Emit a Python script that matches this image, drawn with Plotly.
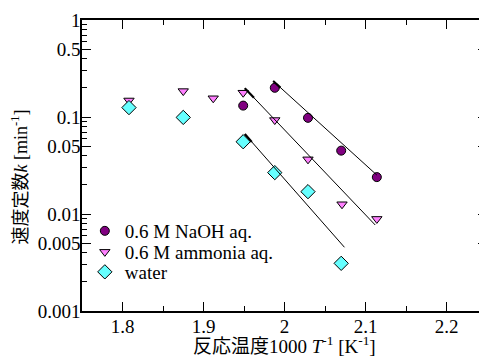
import plotly.graph_objects as go
import numpy as np

# Data (x = 1000/T [1/K], y = k [1/min])
naoh_x = [1.949, 1.988, 2.029, 2.070, 2.114]
naoh_y = [0.131, 0.200, 0.098, 0.045, 0.0240]

ammonia_x = [1.808, 1.875, 1.912, 1.949, 1.988, 2.029, 2.071, 2.114]
ammonia_y = [0.148, 0.185, 0.156, 0.178, 0.093, 0.0366, 0.0126, 0.0089]

water_x = [1.808, 1.875, 1.949, 1.988, 2.029, 2.070]
water_y = [0.125, 0.099, 0.0556, 0.0267, 0.0170, 0.0031]

# Fitted (Arrhenius) line endpoints
fit_naoh_x = [1.986, 2.114]
fit_naoh_y = [0.235, 0.0252]
fit_ammonia_x = [1.951, 2.112]
fit_ammonia_y = [0.198, 0.0077]
fit_water_x = [1.951, 2.074]
fit_water_y = [0.0668, 0.00454]

y_tickvals = [0.001, 0.005, 0.01, 0.05, 0.1, 0.5, 1]
y_ticktext = ["0.001", "0.005", "0.01", "0.05", "0.1", "0.5", "1"]
x_tickvals = [1.8, 1.9, 2.0, 2.1, 2.2]
x_ticktext = ["1.8", "1.9", "2", "2.1", "2.2"]

FONT = '"Liberation Serif", "Times New Roman", "Noto Sans CJK JP", serif'

# page body has an 8px default margin; figure is sized to fit the window
W, H = 479, 350
ML, MR, MT, MB = 74, 0, 12, 47
PW = W - ML - MR
PH = H - MT - MB

fig = go.Figure()

mk_line = dict(color="black", width=1)
fig.add_trace(go.Scatter(x=naoh_x, y=naoh_y, mode="markers", name="0.6 M NaOH aq.",
                         legend="legend4",
                         marker=dict(symbol="circle", size=9, color="#800080", line=mk_line)))
fig.add_trace(go.Scatter(x=ammonia_x, y=ammonia_y, mode="markers", name="0.6 M ammonia aq.",
                         legend="legend2",
                         marker=dict(symbol="triangle-down", size=9, color="#ff80ff", line=mk_line)))
fig.add_trace(go.Scatter(x=water_x, y=water_y, mode="markers", name="water", legend="legend3",
                         marker=dict(symbol="diamond", size=11, color="#66ffff", line=mk_line)))

def add_fit(xs, ys):
    fig.add_trace(go.Scatter(x=xs, y=ys, mode="lines",
                             line=dict(color="black", width=1),
                             showlegend=False, hoverinfo="skip"))
    # short bold start segment
    lx0, lx1 = xs
    ly0, ly1 = np.log10(ys[0]), np.log10(ys[1])
    f = 0.07
    fig.add_trace(go.Scatter(x=[lx0, lx0 + f * (lx1 - lx0)],
                             y=[10 ** ly0, 10 ** (ly0 + f * (ly1 - ly0))],
                             mode="lines", line=dict(color="black", width=2.2),
                             showlegend=False, hoverinfo="skip"))

add_fit(fit_naoh_x, fit_naoh_y)
add_fit(fit_ammonia_x, fit_ammonia_y)
add_fit(fit_water_x, fit_water_y)

minor_y = []
for dec in [0.001, 0.01, 0.1]:
    for m in [2, 3, 4, 6, 7, 8, 9]:
        minor_y.append(dec * m)

def leg(ycenter_px):
    return dict(x=0.007, y=(MT + PH + 8 - ycenter_px) / PH, xanchor="left", yanchor="middle",
                yref="paper", xref="paper",
                bgcolor="rgba(0,0,0,0)", font=dict(size=19), itemsizing="trace",
                itemwidth=30, borderwidth=0)

fig.update_layout(
    width=W, height=H,
    margin=dict(l=ML, r=MR, t=MT, b=MB, autoexpand=False),
    paper_bgcolor="white", plot_bgcolor="white",
    font=dict(family=FONT, size=19, color="black"),
    showlegend=True,
    legend4=leg(231), legend2=leg(252), legend3=leg(272),
    xaxis=dict(range=[1.75, 2.25], tickvals=x_tickvals, ticktext=x_ticktext,
               ticks="inside", ticklen=9, tickwidth=1, tickcolor="black",
               showline=True, linecolor="black", linewidth=1.5, mirror="allticks",
               showgrid=False, zeroline=False, automargin=False, ticklabelstandoff=-3,
               minor=dict(tickvals=[1.75, 1.85, 1.95, 2.05, 2.15, 2.25],
                          ticks="inside", ticklen=5, tickcolor="black", tickwidth=1, showgrid=False)),
    yaxis=dict(type="log", range=[-3, 0], tickvals=y_tickvals, ticktext=y_ticktext,
               ticks="inside", ticklen=9, tickwidth=1, tickcolor="black",
               showline=True, linecolor="black", linewidth=1.5, mirror="allticks",
               showgrid=False, zeroline=False, automargin=False, ticklabelstandoff=-4,
               minor=dict(tickvals=minor_y, ticks="inside", ticklen=5,
                          tickcolor="black", tickwidth=1, showgrid=False)),
    annotations=[
        dict(text="反応温度1000 <i>T</i><sup>-1</sup> [K<sup>-1</sup>]",
             xref="paper", yref="paper", x=0.5, y=-34 / PH, xanchor="center", yanchor="middle",
             showarrow=False, font=dict(size=19)),
        dict(text="速度定数<i>k</i> [min<sup>-1</sup>]",
             xref="paper", yref="paper", x=(12 - ML) / PW, y=0.5 - 12 / PH,
             xanchor="center", yanchor="middle",
             textangle=-90, showarrow=False, font=dict(size=18)),
    ],
)

fig.write_html("out.html")
